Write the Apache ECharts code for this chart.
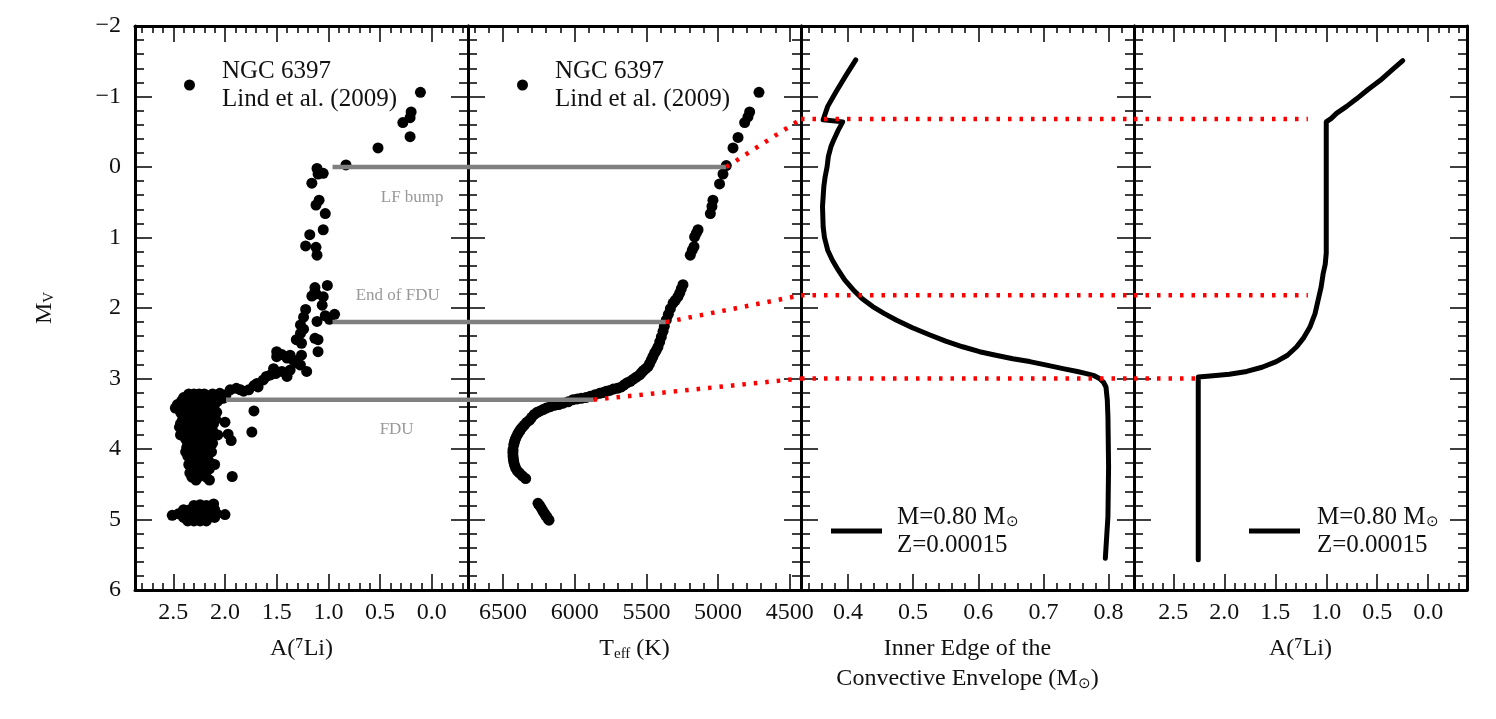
<!DOCTYPE html>
<html>
<head>
<meta charset="utf-8">
<script src="https://cdn.jsdelivr.net/npm/echarts@6/dist/echarts.min.js"></script>
<style>
  html, body { margin: 0; padding: 0; background: #fff; }
  #chart { width: 1496px; height: 719px; }
</style>
</head>
<body>
<div id="chart"></div>
<script>
// tick labels
const mvTicks = [-2, -1, 0, 1, 2, 3, 4, 5, 6];
const liTicks = [0, 0.5, 1.0, 1.5, 2.0, 2.5];
const teffTicks = [4500, 5000, 5500, 6000, 6500];
const ceTicks = [0.4, 0.5, 0.6, 0.7, 0.8];

// Lind et al. (2009), NGC 6397: [A(Li), Mv]
const lindLi = [
  [0.11,-1.06],[0.20,-0.78],[0.21,-0.70],[0.28,-0.63],[0.21,-0.43],[0.52,-0.27],[0.83,-0.03],
  [1.11,0.02],[1.05,0.09],[1.10,0.10],[1.16,0.23],[1.09,0.47],[1.12,0.54],[1.03,0.66],[1.05,0.89],
  [1.18,0.96],[1.22,1.12],[1.12,1.14],[1.11,1.25],
  [1.13,1.71],[1.01,1.68],[1.16,1.83],[1.12,1.80],[1.05,1.84],[1.13,1.77],[1.06,1.96],[1.22,2.02],
  [1.03,2.11],[0.94,2.09],[0.99,2.16],[1.24,2.13],[1.11,2.19],[1.27,2.24],[1.24,2.30],[1.27,2.36],
  [1.31,2.45],[1.26,2.50],[1.13,2.43],[1.10,2.45],[1.10,2.62],[1.26,2.67],
  [1.50,2.62],[1.50,2.69],[1.40,2.71],[1.34,2.74],[1.37,2.67],[1.45,2.66],[1.30,2.78],[1.27,2.81],[1.21,2.90],
  [1.53,2.86],[1.51,2.93],[1.40,2.97],[1.37,2.88],[1.45,2.90],[1.60,2.97],[1.63,3.02],[1.69,3.07],
  [1.68,3.12],[1.56,2.95],[1.72,3.10],[1.77,3.16],[1.85,3.16],[1.89,3.14],[1.95,3.16],[2.05,3.21],
  [1.99,3.23],[1.82,3.18],
  [1.72,3.46],[1.74,3.76],[1.93,4.39],[2.00,3.62],[1.97,3.79],[1.94,3.88],
  // turn-off / subgiant clump
  [2.35,3.22],[2.30,3.22],[2.25,3.22],[2.20,3.22],[2.12,3.22],[2.05,3.24],
  [2.40,3.27],[2.33,3.27],[2.28,3.27],[2.22,3.27],[2.15,3.27],[2.10,3.27],[2.02,3.28],
  [2.42,3.32],[2.36,3.32],[2.30,3.32],[2.26,3.32],[2.18,3.32],[2.12,3.32],[2.07,3.32],
  [2.46,3.37],[2.40,3.37],[2.34,3.37],[2.28,3.37],[2.22,3.37],[2.16,3.37],[2.10,3.37],
  [2.48,3.42],[2.42,3.42],[2.36,3.42],[2.30,3.42],[2.25,3.42],[2.19,3.42],[2.12,3.42],
  [2.43,3.48],[2.38,3.48],[2.32,3.48],[2.27,3.48],[2.21,3.48],[2.15,3.48],[2.08,3.48],
  [2.40,3.53],[2.34,3.53],[2.29,3.53],[2.24,3.53],[2.18,3.53],[2.12,3.53],
  [2.41,3.58],[2.35,3.58],[2.30,3.58],[2.25,3.58],[2.20,3.58],[2.14,3.58],[2.09,3.58],
  [2.43,3.64],[2.32,3.64],[2.27,3.64],[2.22,3.64],[2.17,3.64],[2.11,3.64],
  [2.44,3.69],[2.37,3.69],[2.31,3.69],[2.26,3.69],[2.20,3.69],[2.15,3.69],
  [2.39,3.74],[2.33,3.74],[2.28,3.74],[2.23,3.74],[2.17,3.74],[2.12,3.74],
  [2.43,3.80],[2.36,3.80],[2.30,3.80],[2.25,3.80],[2.19,3.80],[2.07,3.80],
  [2.38,3.86],[2.32,3.86],[2.26,3.86],[2.21,3.86],[2.15,3.86],
  [2.36,3.92],[2.30,3.92],[2.24,3.92],[2.18,3.92],[2.12,3.92],
  [2.37,3.98],[2.31,3.98],[2.25,3.98],[2.20,3.98],[2.15,3.98],
  [2.38,4.04],[2.29,4.04],[2.23,4.04],[2.17,4.04],[2.13,4.04],
  [2.36,4.10],[2.30,4.10],[2.25,4.10],[2.19,4.10],
  [2.33,4.16],[2.27,4.16],[2.22,4.16],[2.16,4.16],
  [2.35,4.22],[2.29,4.22],[2.24,4.22],[2.18,4.22],[2.10,4.22],
  [2.32,4.28],[2.26,4.28],[2.20,4.28],[2.15,4.28],
  [2.34,4.34],[2.28,4.34],[2.22,4.34],
  [2.32,4.40],[2.26,4.40],[2.18,4.40],[2.28,4.44],[2.15,4.44],
  // main sequence group
  [2.30,4.80],[2.24,4.79],[2.18,4.80],[2.11,4.78],
  [2.40,4.86],[2.34,4.86],[2.28,4.86],[2.22,4.86],[2.16,4.86],[2.10,4.86],
  [2.45,4.92],[2.38,4.92],[2.32,4.92],[2.26,4.92],[2.20,4.92],[2.14,4.92],[2.08,4.92],
  [2.40,4.97],[2.34,4.97],[2.28,4.97],[2.22,4.97],[2.16,4.97],[2.10,4.97],
  [2.36,5.02],[2.30,5.02],[2.24,5.02],[2.18,5.02],
  [2.51,4.94],[2.00,4.93]
];

// Lind et al. (2009), NGC 6397: [Teff, Mv]
const lindTeff = [
  [4715,-1.06],[4780,-0.78],[4792,-0.71],[4815,-0.63],[4861,-0.42],[4896,-0.27],[4943,-0.02],
  [4966,0.10],[4990,0.24],[5036,0.47],[5043,0.56],[5054,0.66],[5140,0.89],[5152,0.94],[5164,0.99],
  [5168,1.13],[5180,1.18],[5194,1.25],
  [5245,1.67],[5257,1.73],[5268,1.79],[5280,1.84],[5298,1.89],[5314,1.93],[5333,2.01],[5347,2.09],
  [5361,2.17],[5375,2.26],[5384,2.33],[5396,2.41],[5407,2.48],[5419,2.55],[5431,2.60],[5443,2.64],
  [5455,2.69],[5466,2.74],[5478,2.79],[5489,2.83],[5505,2.86],[5522,2.89],[5535,2.92],[5547,2.95],
  [5570,2.98],[5591,3.01],[5612,3.04],[5633,3.06],[5655,3.09],[5675,3.12],[5703,3.14],[5731,3.15],
  [5755,3.17],[5780,3.18],[5803,3.20],[5826,3.21],[5858,3.23],[5891,3.25],[5922,3.27],[5954,3.28],
  [5983,3.29],[6012,3.30],[6046,3.33],[6080,3.35],[6111,3.37],[6142,3.38],[6170,3.40],[6198,3.42],
  [6220,3.44],[6240,3.46],[6262,3.48],[6282,3.51],[6300,3.55],[6314,3.59],[6334,3.62],[6351,3.66],
  [6364,3.69],[6376,3.72],[6386,3.75],[6395,3.78],[6405,3.82],[6414,3.86],[6420,3.90],[6425,3.94],
  [6430,4.01],[6431,4.05],[6430,4.10],[6428,4.14],[6425,4.18],[6419,4.23],[6412,4.27],[6400,4.31],
  [6386,4.34],[6365,4.38],[6342,4.42],
  [6256,4.77],[6245,4.80],[6233,4.84],[6222,4.88],[6212,4.91],[6203,4.94],[6195,4.96],[6186,4.99],[6179,5.01]
];

// model M=0.80, Z=0.00015: [inner edge of convective envelope, Mv]
const modelCE = [
  [0.412,-1.52],[0.397,-1.30],[0.382,-1.07],[0.369,-0.86],[0.362,-0.67],[0.392,-0.64],[0.385,-0.52],
  [0.378,-0.38],[0.374,-0.29],[0.370,-0.15],[0.368,0.00],[0.365,0.14],[0.363,0.28],[0.361,0.56],
  [0.362,0.85],[0.364,1.00],[0.369,1.18],[0.376,1.32],[0.385,1.46],[0.395,1.60],[0.408,1.74],
  [0.422,1.87],[0.438,1.98],[0.456,2.08],[0.474,2.17],[0.499,2.28],[0.525,2.38],[0.550,2.47],
  [0.576,2.55],[0.602,2.62],[0.627,2.67],[0.653,2.72],[0.679,2.76],[0.705,2.81],[0.730,2.86],
  [0.752,2.90],[0.766,2.93],[0.778,2.96],[0.786,3.00],[0.792,3.05],[0.796,3.12],[0.798,3.30],
  [0.799,3.54],[0.800,4.25],[0.799,4.96],[0.795,5.55]
];

// model M=0.80, Z=0.00015: [A(Li), Mv]
const modelLi = [
  [0.25,-1.51],[0.36,-1.37],[0.47,-1.23],[0.59,-1.10],[0.70,-0.97],[0.80,-0.86],[0.90,-0.76],
  [0.95,-0.69],[1.00,-0.64],[1.00,0.80],[1.00,1.22],[1.01,1.38],[1.03,1.51],[1.05,1.70],[1.08,1.89],
  [1.11,2.08],[1.16,2.27],[1.22,2.42],[1.29,2.55],[1.38,2.67],[1.49,2.76],[1.63,2.84],[1.78,2.90],
  [1.95,2.94],[2.11,2.96],[2.255,2.98],[2.255,5.57]
];

// grey markers: LF bump, end of FDU, FDU
const grayLi = [
  [[0.96, 0.0], [-0.35, 0.0]],
  [[0.96, 2.2], [-0.35, 2.2]],
  [[1.99, 3.3], [-0.35, 3.3]]
];
const grayTeff = [
  [[6744, 0.0], [4943, 0.0]],
  [[6744, 2.2], [5364, 2.2]],
  [[6744, 3.3], [5868, 3.3]]
];
const grayText = ['LF bump', 'End of FDU', 'FDU'];
const grayTextAt = [[0.19, 0.44], [0.33, 1.83], [0.34, 3.73]];

// red connectors
const redTeff = [
  [[4943, 0.0], [4422, -0.68]],
  [[5364, 2.2], [4422, 1.82]],
  [[5868, 3.3], [4422, 3.0]]
];
const redCE = [
  [[0.328, -0.68], [0.839, -0.68]],
  [[0.328, 1.82], [0.839, 1.82]],
  [[0.328, 3.0], [0.839, 3.0]]
];
const redLi = [
  [[2.885, -0.68], [1.18, -0.68]],
  [[2.885, 1.82], [1.18, 1.82]],
  [[2.885, 3.0], [2.28, 3.0]]
];

const FONT = 'Liberation Serif';
const INK = '#111';

function tickRange(from, to, step) {
  const out = [];
  const n = Math.round((to - from) / step);
  for (let k = 0; k <= n; k++) out.push(+(from + k * step).toFixed(4));
  return out;
}

const subRich = {
  s: { fontFamily: FONT, fontSize: 15, color: INK, padding: [10, 0, 0, 0] }
};

const panels = [
  { min: -0.35, max: 2.87, inverse: true, major: liTicks, minor: tickRange(-0.3, 2.8, 0.1),
    fmt: v => v.toFixed(1), name: 'A(\u2077Li)', nameGap: 44 },
  { min: 4422, max: 6744, inverse: true, major: teffTicks, minor: tickRange(4500, 6700, 100),
    fmt: v => String(v), name: 'T{s|eff} (K)', nameGap: 44 },
  { min: 0.328, max: 0.839, inverse: false, major: ceTicks, minor: tickRange(0.34, 0.82, 0.02),
    fmt: v => v.toFixed(1), name: 'Inner Edge of the\nConvective Envelope (M{s|\u2299})', nameGap: 44 },
  { min: -0.38, max: 2.885, inverse: true, major: liTicks, minor: tickRange(-0.3, 2.8, 0.1),
    fmt: v => v.toFixed(1), name: 'A(\u2077Li)', nameGap: 44 }
];

const frameLine = { show: true, onZero: false, lineStyle: { color: '#000', width: 3 } };

const grids = [], xAxes = [], yAxes = [];
panels.forEach((p, g) => {
  grids.push({ left: 135 + 333 * g, top: 26, width: 333, height: 564 });
  const base = {
    type: 'value', gridIndex: g, min: p.min, max: p.max, inverse: p.inverse,
    splitLine: { show: false },
    axisLine: frameLine
  };
  ['bottom', 'top'].forEach(pos => {
    xAxes.push(Object.assign({}, base, {
      position: pos,
      axisTick: { show: true, inside: true, length: 16, customValues: p.major,
        lineStyle: { color: '#000', width: 1.5 } },
      axisLabel: { show: pos === 'bottom', customValues: p.major, formatter: p.fmt, margin: 11,
        color: INK, fontFamily: FONT, fontSize: 24 },
      name: pos === 'bottom' ? p.name : '',
      nameLocation: 'middle', nameGap: p.nameGap,
      nameTextStyle: { color: INK, fontFamily: FONT, fontSize: 24, lineHeight: 30, rich: subRich }
    }));
    xAxes.push(Object.assign({}, base, {
      position: pos,
      axisLine: { show: false, onZero: false },
      axisTick: { show: true, inside: true, length: 7, customValues: p.minor,
        lineStyle: { color: '#000', width: 1.5 } },
      axisLabel: { show: false }
    }));
  });
  ['left', 'right'].forEach(pos => {
    const first = g === 0 && pos === 'left';
    yAxes.push({
      type: 'value', gridIndex: g, position: pos, min: -2, max: 6, interval: 1, inverse: true,
      splitLine: { show: false }, minorSplitLine: { show: false },
      axisLine: frameLine,
      axisTick: { show: true, inside: true, length: 17, lineStyle: { color: '#000', width: 1.5 } },
      minorTick: { show: true, splitNumber: 5, length: 9, lineStyle: { color: '#000', width: 1.5 } },
      axisLabel: { show: first, margin: 14, color: INK, fontFamily: FONT, fontSize: 24,
        formatter: v => mvTicks.includes(v) ? (v < 0 ? '\u2212' + (-v) : String(v)) : '' },
      name: first ? 'M{s|V}' : '',
      nameLocation: 'middle', nameRotate: 90, nameGap: 78,
      nameTextStyle: { color: INK, fontFamily: FONT, fontSize: 24, rich: subRich }
    });
  });
});

const series = [];
[lindLi, lindTeff].forEach((d, g) => {
  series.push({
    type: 'scatter', name: 'NGC 6397', xAxisIndex: 4 * g, yAxisIndex: 2 * g,
    data: d, symbolSize: 11, itemStyle: { color: '#000', opacity: 1 }, z: 2
  });
});
[[modelCE, 2], [modelLi, 3]].forEach(([d, g]) => {
  series.push({
    type: 'line', name: 'model', xAxisIndex: 4 * g, yAxisIndex: 2 * g,
    data: d, showSymbol: false, symbol: 'none', color: '#000',
    lineStyle: { color: '#000', width: 5, cap: 'round', join: 'round' }, z: 2
  });
});
function segs(list, g, style, z) {
  list.forEach(s => series.push({
    type: 'line', xAxisIndex: 4 * g, yAxisIndex: 2 * g, data: s, symbol: 'none',
    lineStyle: style, silent: true, z: z
  }));
}
segs(grayLi, 0, { color: '#808080', width: 4.5 }, 3);
segs(grayTeff, 1, { color: '#808080', width: 4.5 }, 3);
segs(redTeff, 1, { color: '#ff0000', width: 4.5, type: [3.5, 8] }, 4);
segs(redCE, 2, { color: '#ff0000', width: 4.5, type: [3.5, 8] }, 4);
segs(redLi, 3, { color: '#ff0000', width: 4.5, type: [3.5, 8] }, 4);

series.push({
  type: 'scatter', xAxisIndex: 0, yAxisIndex: 0, symbolSize: 0, silent: true, z: 5,
  data: grayText.map((t, i) => ({ name: t, value: grayTextAt[i] })),
  label: { show: true, position: 'inside', formatter: '{b}', color: '#808080',
    fontFamily: FONT, fontSize: 17 }
});

const legendText = { fontFamily: FONT, fontSize: 25, lineHeight: 28, color: INK };
function dotLegend(left) {
  return {
    data: ['NGC 6397'], left: left, top: 57, padding: 0, selectedMode: false,
    icon: 'circle', itemWidth: 11, itemHeight: 11,
    itemStyle: { opacity: 1 },
    formatter: () => 'NGC 6397\nLind et al. (2009)',
    textStyle: Object.assign({ padding: [0, 0, 0, 22] }, legendText)
  };
}
function lineLegend(left, gap) {
  return {
    data: ['model'], left: left, top: 503, padding: 0, selectedMode: false,
    icon: 'rect', itemWidth: 51, itemHeight: 5,
    formatter: () => 'M=0.80 M{s|\u2299}\nZ=0.00015',
    textStyle: Object.assign({ padding: [0, 0, 0, gap], rich: {
      s: { fontFamily: FONT, fontSize: 15, color: INK, padding: [10, 0, 0, 0] } } }, legendText)
  };
}

const chart = echarts.init(document.getElementById('chart'));
chart.setOption({
  animation: false,
  backgroundColor: '#fff',
  grid: grids,
  xAxis: xAxes,
  yAxis: yAxes,
  legend: [dotLegend(184), dotLegend(517), lineLegend(831, 10), lineLegend(1249, 12)],
  series: series
});
window.addEventListener('resize', () => chart.resize());
</script>
</body>
</html>
